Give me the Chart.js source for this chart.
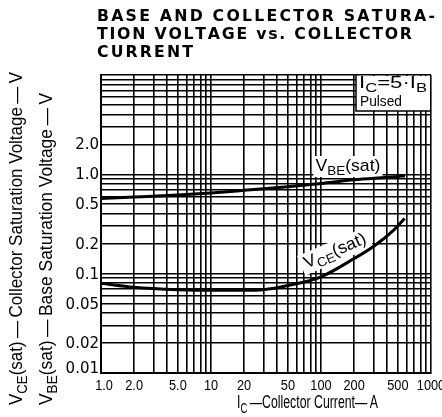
<!DOCTYPE html>
<html>
<head>
<meta charset="utf-8">
<script src="https://cdn.jsdelivr.net/npm/chart.js@4.4.1/dist/chart.umd.min.js"></script>
<style>
  html, body { margin: 0; padding: 0; background: #fff; }
</style>
</head>
<body>
<canvas id="satChart" width="442" height="417"></canvas>
<script>
// Curves (Ic in A, voltages in V)
const vbeCurrent = [1, 2, 5, 10, 20, 50, 100, 200, 500, 580];
const vbeVoltage = [0.57, 0.59, 0.62, 0.65, 0.69, 0.75, 0.81, 0.88, 0.95, 0.97];
const vceCurrent = [1, 2, 5, 10, 20, 30, 50, 100, 200, 300, 450, 575];
const vceVoltage = [0.080, 0.073, 0.069, 0.068, 0.068, 0.069, 0.076, 0.093, 0.142, 0.188, 0.27, 0.36];

const xTickValues = [1, 2, 5, 10, 20, 50, 100, 200, 500, 1000];
const xTickLabels = ['1.0', '2.0', '5.0', '10', '20', '50', '100', '200', '500', '1000'];
const yTickValues = [0.01, 0.02, 0.05, 0.1, 0.2, 0.5, 1, 2];
const yTickLabels = ['0.01', '0.02', '0.05', '0.1', '0.2', '0.5', '1.0', '2.0'];

const titleLines = ['BASE AND COLLECTOR SATURA-', 'TION VOLTAGE vs. COLLECTOR', 'CURRENT'];

const FONT = "'Liberation Sans', Arial, sans-serif";

// full 1..9 grid in every decade
const logGrid = (min, max) => {
    const out = [];
    for (let d = min; d < max * 0.999; d *= 10) {
        for (let m = 1; m < 10; m++) out.push(Number((m * d).toPrecision(6)));
    }
    out.push(max);
    return out.map(value => ({ value }));
};

const fontFor = (o, sub) => `${o.weight || 'normal'} ${sub ? Math.round(o.size * 0.75) : o.size}px ${o.family || FONT}`;

const measureRuns = (ctx, runs, o) => runs.reduce((w, [t, sub]) => {
    ctx.font = fontFor(o, sub);
    if (o.fit === 'spacing') {
        return w + [...t].reduce((s, ch) => s + ctx.measureText(ch).width, 0);
    }
    return w + ctx.measureText(t).width;
}, 0);

// draws text made of runs [text, isSubscript]; can fit a target width
const drawRuns = (ctx, runs, x, y, o) => {
    const natural = measureRuns(ctx, runs, o);
    const chars = runs.reduce((n, r) => n + r[0].length, 0);
    let spacing = 0;
    let sx = o.scaleX || 1;
    if (o.width && o.fit === 'spacing') spacing = (o.width - natural * sx) / (chars - 1) / sx;
    else if (o.width) sx = o.width / natural;
    const total = o.width || natural * sx;
    let start = 0;
    if (o.align === 'center') start = -total / 2;
    if (o.align === 'right') start = -total;

    ctx.save();
    ctx.translate(x, y);
    if (o.angle) ctx.rotate(o.angle);
    ctx.translate(start, 0);
    ctx.scale(sx, 1);
    ctx.fillStyle = '#000';
    ctx.textAlign = 'left';
    ctx.textBaseline = 'alphabetic';
    let cx = 0;
    runs.forEach(([t, sub]) => {
        ctx.font = fontFor(o, sub);
        const dy = sub ? o.size * 0.25 : 0;
        if (o.fit === 'spacing') {
            for (const ch of t) {
                ctx.fillText(ch, cx, dy);
                cx += ctx.measureText(ch).width + spacing;
            }
        } else {
            ctx.fillText(t, cx, dy);
            cx += ctx.measureText(t).width;
        }
    });
    ctx.restore();
    return total;
};

const annotations = {
    id: 'annotations',
    beforeDatasetsDraw(chart) {
        const { ctx, chartArea: a, scales: { x, y } } = chart;
        ctx.save();
        ctx.fillStyle = '#fff';
        ctx.strokeStyle = '#000';
        ctx.lineWidth = 1.5;

        // condition box, top right corner
        const bl = a.right - 75, bb = a.top + 36;
        ctx.fillRect(bl, a.top + 1, a.right - 1 - bl, bb - a.top - 1);
        ctx.beginPath();
        ctx.moveTo(bl, a.top);
        ctx.lineTo(bl, bb);
        ctx.lineTo(a.right, bb);
        ctx.stroke();
        drawRuns(ctx, [['I'], ['C', true], ['=5\u00b7I'], ['B', true]], bl + 3, a.top + 13, { size: 16, width: 68 });
        drawRuns(ctx, [['Pulsed']], bl + 4, a.top + 31, { size: 15, width: 42 });

        // VBE(sat) label
        ctx.fillStyle = '#fff';
        const vx = x.getPixelForValue(89), vy = y.getPixelForValue(1.08);
        ctx.fillRect(vx - 2, vy - 15, 69, 21);
        drawRuns(ctx, [['V'], ['BE', true], ['(sat)']], vx, vy, { size: 17, width: 65 });

        // VCE(sat) label, along the curve
        const cx = x.getPixelForValue(74), cy = y.getPixelForValue(0.113);
        const ang = -23 * Math.PI / 180;
        ctx.save();
        ctx.translate(cx, cy);
        ctx.rotate(ang);
        ctx.fillStyle = '#fff';
        ctx.fillRect(-4, -15, 74, 21);
        ctx.restore();
        drawRuns(ctx, [['V'], ['CE', true], ['(sat)']], cx, cy, { size: 17, width: 66, angle: ang });
        ctx.restore();
    },
    afterDraw(chart) {
        const { ctx, chartArea: a, scales: { x, y } } = chart;

        // title, wide bold caps
        const tOpts = { size: 15, weight: 'bold', family: "'DejaVu Sans', sans-serif", fit: 'spacing', scaleX: 1.05 };
        drawRuns(ctx, [[titleLines[0]]], 97, 21, { ...tOpts, width: 338 });
        drawRuns(ctx, [[titleLines[1]]], 97, 39, { ...tOpts, width: 315 });
        drawRuns(ctx, [[titleLines[2]]], 97, 57, { ...tOpts, width: 96 });

        // tick labels
        xTickValues.forEach((v, i) => {
            const px = Math.max(x.getPixelForValue(v), 104);
            drawRuns(ctx, [[xTickLabels[i]]], px, a.bottom + 17, { size: 15, scaleX: 0.85, align: 'center' });
        });
        yTickValues.forEach((v, i) => {
            const py = Math.min(y.getPixelForValue(v), a.bottom - 5);
            drawRuns(ctx, [[yTickLabels[i]]], a.left - 2, py + 5, { size: 15, family: "'DejaVu Sans', sans-serif", align: 'right' });
        });

        // axis titles
        drawRuns(ctx, [['I'], ['C', true], ['\u2009\u2014Collector Current\u2014\u2009A']], 237, 408, { size: 18, width: 141 });
        drawRuns(ctx, [['V'], ['CE', true], ['(sat)\u2009\u2014\u2009Collector Saturation Voltage\u2009\u2014\u2009V']], 22, 405,
            { size: 18, width: 333, angle: -Math.PI / 2 });
        drawRuns(ctx, [['V'], ['BE', true], ['(sat)\u2009\u2014\u2009Base Saturation Voltage\u2009\u2014\u2009V']], 52, 405,
            { size: 18, width: 312, angle: -Math.PI / 2 });
    }
};

const toPoints = (xs, ys) => xs.map((v, i) => ({ x: v, y: ys[i] }));

const gridOpts = { color: '#000', lineWidth: 1.6, drawTicks: false };
const borderOpts = { color: '#000', width: 2 };

const chart = new Chart(document.getElementById('satChart').getContext('2d'), {
    type: 'line',
    data: {
        datasets: [{
            label: 'VBE(sat)',
            data: toPoints(vbeCurrent, vbeVoltage),
            borderColor: '#000',
            borderWidth: 3,
            pointRadius: 0,
            cubicInterpolationMode: 'monotone',
            fill: false
        }, {
            label: 'VCE(sat)',
            data: toPoints(vceCurrent, vceVoltage),
            borderColor: '#000',
            borderWidth: 3,
            pointRadius: 0,
            cubicInterpolationMode: 'monotone',
            fill: false
        }]
    },
    options: {
        responsive: false,
        animation: false,
        layout: { padding: { left: 101, right: 11, top: 75, bottom: 44 } },
        plugins: {
            legend: { display: false },
            tooltip: { enabled: false }
        },
        scales: {
            x: {
                type: 'logarithmic',
                min: 1,
                max: 1000,
                afterBuildTicks: scale => { scale.ticks = logGrid(1, 1000); },
                ticks: { display: false },
                grid: gridOpts,
                border: borderOpts
            },
            y: {
                type: 'logarithmic',
                min: 0.01,
                max: 10,
                afterBuildTicks: scale => { scale.ticks = logGrid(0.01, 10); },
                ticks: { display: false },
                grid: gridOpts,
                border: borderOpts
            }
        }
    },
    plugins: [annotations]
});
</script>
</body>
</html>
